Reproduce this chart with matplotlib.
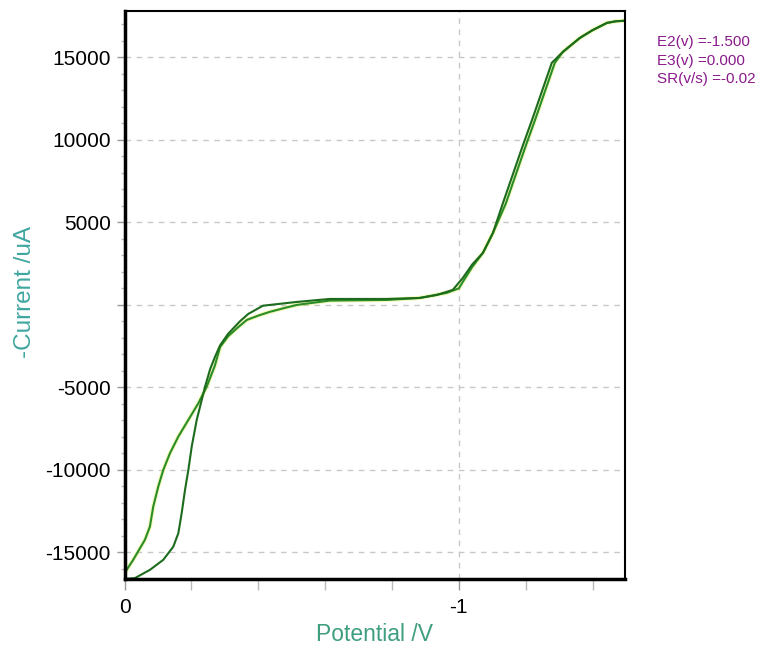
import matplotlib
matplotlib.use("Agg")
import matplotlib.pyplot as plt
from matplotlib.ticker import MultipleLocator, FixedLocator

# two scan branches (potential V, current uA)
e_a = [0.000, -0.026, -0.061, -0.076, -0.086, -0.101, -0.116, -0.136, -0.161,
       -0.191, -0.221, -0.246, -0.270, -0.286, -0.310, -0.340, -0.366, -0.400,
       -0.435, -0.480, -0.516, -0.614, -0.785, -0.883, -0.964, -1.000, -1.012,
       -1.040, -1.072, -1.102, -1.140, -1.170, -1.200, -1.230, -1.260, -1.287,
       -1.311, -1.362, -1.400, -1.443, -1.470, -1.497]
i_a = [-16260, -15450, -14240, -13430, -12220, -11010, -10000, -8990, -7980,
       -6970, -5960, -4950, -3700, -2550, -1900, -1350, -910, -650,
       -420, -180, 0, 260, 300, 420, 730, 1000, 1400,
       2300, 3150, 4360, 6120, 7880, 9640, 11330, 13090, 14670,
       15330, 16180, 16650, 17090, 17190, 17220]

e_b = [-0.006, -0.031, -0.076, -0.116, -0.146, -0.161, -0.171, -0.181, -0.191,
       -0.201, -0.216, -0.231, -0.241, -0.256, -0.271, -0.286, -0.310, -0.345,
       -0.370, -0.414, -0.516, -0.614, -0.785, -0.883, -0.934, -0.982, -1.012,
       -1.040, -1.072, -1.102, -1.131, -1.161, -1.191, -1.221, -1.251, -1.278,
       -1.311, -1.362, -1.400, -1.443, -1.470, -1.497]
i_b = [-16600, -16560, -16060, -15450, -14650, -13840, -12620, -11210, -10000,
       -8590, -6970, -5760, -4950, -3900, -3130, -2450, -1750, -1000,
       -550, -50, 180, 360, 360, 420, 600, 910, 1636,
       2450, 3150, 4360, 6120, 7880, 9640, 11330, 13090, 14670,
       15330, 16180, 16650, 17090, 17190, 17220]

y_ticks = [-15000, -10000, -5000, 0, 5000, 10000, 15000]
y_labels = ["-15000", "-10000", "-5000", "", "5000", "10000", "15000"]
x_ticks = [0, -1]
x_labels = ["0", "-1"]
info = ["E2(v) =-1.500", "E3(v) =0.000", "SR(v/s) =-0.02"]

plt.rcParams['font.family'] = ['Liberation Sans', 'DejaVu Sans']

fig = plt.figure(figsize=(7.7, 6.52), dpi=100)
ax = fig.add_axes([0.1617, 0.112, 0.65, 0.871])

ax.plot(e_a, i_a, color='#d8ee10', lw=3.0, alpha=0.3, solid_capstyle='round')
ax.plot(e_a, i_a, color='#2a8c2a', lw=1.5)
ax.plot(e_b, i_b, color='#1d6b1d', lw=1.5)

ax.set_xlim(0, -1.497)
ax.set_ylim(-16612, 17806)

ax.yaxis.set_major_locator(FixedLocator(y_ticks))
ax.set_yticklabels(y_labels)
ax.yaxis.set_minor_locator(MultipleLocator(1000))
ax.xaxis.set_major_locator(FixedLocator(x_ticks))
ax.set_xticklabels(x_labels)
ax.xaxis.set_minor_locator(MultipleLocator(0.2))

ax.grid(True, which='major', color='#c8c8c8', linestyle=(0, (4, 4)), lw=1.0)

ax.tick_params(axis='y', which='major', length=6, width=1, color='#999999',
               labelsize=15, pad=4)
ax.tick_params(axis='y', which='minor', length=3, width=1, color='#bbbbbb')
ax.tick_params(axis='x', which='major', length=8, width=1, color='#999999',
               labelsize=15, pad=6)
ax.tick_params(axis='x', which='minor', length=8, width=1, color='#bbbbbb')

for side, w in [('left', 2.5), ('bottom', 2.5), ('top', 1.5), ('right', 1.5)]:
    ax.spines[side].set_linewidth(w)
    ax.spines[side].set_color('black')

ax.set_ylabel('-Current /uA', color='#3fa6a0', fontsize=17.5, va='center')
ax.yaxis.set_label_coords(-0.199, 0.505)
ax.set_xlabel('Potential /V', color='#3f9e80', fontsize=16.5, labelpad=4)

for k, line in enumerate(info):
    fig.text(0.853, 0.935 - k * 0.028, line, color='#8a1a8a', fontsize=11,
             va='center', ha='left')

fig.savefig('out.png', dpi=100)
